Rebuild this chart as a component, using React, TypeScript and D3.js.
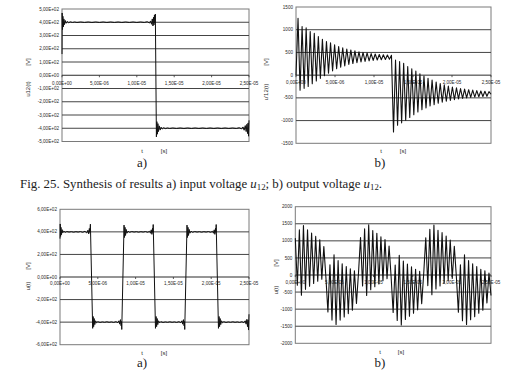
import React from 'react';
import * as d3 from 'd3';

const W = 516;
const H = 377;

// x axis: time in microseconds
const timeTicks = [0, 5, 10, 15, 20, 25];
const timeTickLabels = ['0,00E+00', '5,00E-06', '1,00E-05', '1,50E-05', '2,00E-05', '2,50E-05'];

// y ticks
const ticksTL = [500, 400, 300, 200, 100, 0, -100, -200, -300, -400, -500];
const labelsTL = ['5,00E+02', '4,00E+02', '3,00E+02', '2,00E+02', '1,00E+02', '0,00E+00', '-1,00E+02', '-2,00E+02', '-3,00E+02', '-4,00E+02', '-5,00E+02'];
const ticksTR = [1500, 1000, 500, 0, -500, -1000, -1500];
const labelsTR = ['1500', '1000', '500', '0', '-500', '-1000', '-1500'];
const ticksBL = [600, 400, 200, 0, -200, -400, -600];
const labelsBL = ['6,00E+02', '4,00E+02', '2,00E+02', '0,00E+00', '-2,00E+02', '-4,00E+02', '-6,00E+02'];
const ticksBR = [2000, 1500, 1000, 500, 0, -500, -1000, -1500, -2000];
const labelsBR = ['2000', '1500', '1000', '500', '0', '-500', '-1000', '-1500', '-2000'];

// Fig a) top: input voltage (t in µs, v in V)
const inTopT = [0, 0.02, 0.07, 0.12, 0.18, 0.25, 0.33, 0.42, 0.55, 0.7, 0.9, 1.1, 1.4, 1.7, 2.0, 2.5, 3.0, 3.5, 4, 4.5, 5, 5.5, 6, 6.5, 7, 7.5, 8, 8.5, 9, 9.5, 10, 10.5, 11, 11.4, 11.7, 11.85, 11.97, 12.07, 12.16, 12.24, 12.3, 12.36, 12.42, 12.48,
  12.62, 12.68, 12.75, 12.82, 12.9, 13.0, 13.12, 13.25, 13.4, 13.6, 13.8, 14.1, 14.4, 14.8, 15.3, 15.8, 16.3, 16.8, 17.3, 17.8, 18.3, 18.8, 19.3, 19.8, 20.3, 20.8, 21.3, 21.8, 22.3, 22.8, 23.3, 23.7, 24.0, 24.2, 24.35, 24.5, 24.62, 24.72, 24.8, 24.88, 24.94, 25.0];
const inTopV = [160, 470, 345, 445, 365, 425, 382, 414, 392, 406, 396, 403, 398, 402, 398, 402, 398, 402, 398, 402, 398, 402, 398, 402, 398, 402, 398, 402, 398, 402, 398, 402, 398, 404, 394, 410, 385, 425, 372, 438, 380, 455, 395, 462,
  -465, -350, -445, -365, -425, -382, -414, -392, -406, -396, -403, -398, -402, -398, -402, -398, -402, -398, -402, -398, -402, -398, -402, -398, -402, -398, -402, -398, -402, -398, -402, -396, -405, -390, -415, -380, -425, -370, -440, -360, -460, -340];

// Fig b) top: output voltage, extremes read every 0.2604 µs (25/96)
const outTopV = [0, 1250, -330, 1070, -290, 1040, -250, 960, -190, 920, -130, 850, -70, 790, -10, 740, 45, 710, 95, 670, 140, 630, 175, 600, 205, 575, 235, 555, 255, 535, 275, 515, 290, 500, 303, 488, 315, 475, 325, 465, 333, 455, 340, 448, 346, 442, 352, 438,
  -1250, 330, -1100, 300, -1050, 260, -990, 190, -930, 140, -870, 90, -810, 30, -760, -20, -720, -70, -680, -110, -650, -150, -620, -185, -595, -215, -575, -240, -555, -260, -538, -280, -522, -295, -510, -308, -500, -320, -490, -330, -482, -340, -476, -348, -470, -355, -466, -362, -420];

// Fig a) bottom: input voltage, 3 periods
const inBotT = [0, 0.03, 0.08, 0.13, 0.2, 0.28, 0.36, 0.5, 0.7, 0.9, 1.2, 1.5, 1.8, 2.1, 2.4, 2.7, 3.0, 3.3, 3.55, 3.7, 3.8, 3.88, 3.95, 4.02,
  4.32, 4.38, 4.45, 4.52, 4.6, 4.7, 4.85, 5.0, 5.3, 5.6, 5.9, 6.2, 6.5, 6.8, 7.1, 7.4, 7.65, 7.8, 7.9, 8.0, 8.08, 8.13, 8.17,
  8.47, 8.53, 8.6, 8.67, 8.75, 8.85, 9.0, 9.2, 9.5, 9.8, 10.1, 10.4, 10.7, 11.0, 11.3, 11.6, 11.85, 11.97, 12.07, 12.16, 12.24, 12.29, 12.33,
  12.63, 12.71, 12.78, 12.85, 12.93, 13.03, 13.18, 13.33, 13.63, 13.93, 14.23, 14.53, 14.83, 15.13, 15.43, 15.73, 15.98, 16.13, 16.23, 16.33, 16.41, 16.46, 16.5,
  16.8, 16.86, 16.93, 17.0, 17.08, 17.18, 17.33, 17.53, 17.83, 18.13, 18.43, 18.73, 19.03, 19.33, 19.63, 19.93, 20.18, 20.3, 20.4, 20.49, 20.57, 20.62, 20.66,
  20.96, 21.04, 21.11, 21.18, 21.26, 21.36, 21.51, 21.66, 21.96, 22.26, 22.56, 22.86, 23.16, 23.46, 23.76, 24.06, 24.31, 24.5, 24.62, 24.72, 24.8, 24.88, 24.94, 25.0];
const inBotV = [340, 470, 360, 440, 375, 420, 392, 406, 396, 403, 398, 402, 397, 402, 398, 403, 396, 405, 390, 415, 382, 430, 395, 468,
  -455, -350, -440, -368, -422, -388, -406, -396, -403, -398, -402, -397, -402, -398, -403, -396, -405, -388, -418, -378, -432, -395, -465,
  460, 350, 440, 368, 422, 388, 406, 396, 403, 398, 402, 397, 402, 398, 403, 396, 405, 388, 418, 378, 432, 395, 465,
  -455, -350, -440, -368, -422, -388, -406, -396, -403, -398, -402, -397, -402, -398, -403, -396, -405, -388, -418, -378, -432, -395, -465,
  460, 350, 440, 368, 422, 388, 406, 396, 403, 398, 402, 397, 402, 398, 403, 396, 405, 388, 418, 378, 432, 395, 465,
  -455, -350, -440, -368, -422, -388, -406, -396, -403, -398, -402, -397, -402, -398, -403, -396, -405, -388, -418, -375, -440, -380, -470, -330];

// Fig b) bottom: output voltage, extremes read every 0.2604 µs (25/96)
const outBotV = [1080, -300, 1320, -590, 1450, -420, 1320, -330, 1230, -250, 1130, -180, 1030, -120, 830, -60,
  -1080, 300, -1320, 590, -1450, 420, -1320, 330, -1230, 250, -1130, 180, -1030, 120, -830, 60,
  1100, -320, 1350, -600, 1470, -430, 1300, -340, 1220, -260, 1120, -170, 1040, -110, 850, -50,
  -1100, 290, -1330, 580, -1460, 410, -1300, 320, -1210, 240, -1120, 170, -1020, 110, -840, 50,
  1090, -310, 1340, -580, 1460, -410, 1310, -320, 1240, -240, 1140, -170, 1020, -100, 840, -40,
  -1090, 300, -1340, 590, -1450, 420, -1310, 330, -1220, 250, -1120, 170, -1030, 120, -820, 60, -600];

const SAMPLE_US = 25 / 96;

type Box = { x0: number; x1: number; y0: number; y1: number };

type PanelProps = {
  box: Box;
  yTicks: number[];
  yLabels: string[];
  t: number[];
  v: number[];
  yTitle: string;
  yTitleX: number;
  yTitleY: number;
  unitY: number;
  tX: number;
  sX: number;
  xLabY: number;
  bottomLabY: number;
  letter: string;
  letterX: number;
  letterY: number;
  strokeW: number;
};

function Panel(p: PanelProps) {
  const { box } = p;
  const x = d3.scaleLinear().domain([0, 25]).range([box.x0, box.x1]);
  const y = d3.scaleLinear().domain([p.yTicks[p.yTicks.length - 1], p.yTicks[0]]).range([box.y1, box.y0]);
  const line = d3.line<number>().x((_, i) => x(p.t[i])).y((d) => y(d));
  const y0 = y(0);
  const tickFont = { fontFamily: 'Liberation Sans, Arial, sans-serif', fontSize: 4.6, fill: '#2a2a2a' } as const;
  const labFont = { fontFamily: 'Liberation Sans, Arial, sans-serif', fontSize: 6, fill: '#2a2a2a' } as const;
  return (
    <g>
      <rect x={box.x0} y={box.y0} width={box.x1 - box.x0} height={box.y1 - box.y0} fill="#fff" stroke="#7a7a7a" strokeWidth={1} />
      {p.yTicks.map((tv, i) => (
        <g key={'g' + i}>
          {i > 0 && i < p.yTicks.length - 1 && (
            <line x1={box.x0} x2={box.x1} y1={y(tv)} y2={y(tv)} stroke={tv === 0 ? '#2a2a2a' : '#444'} strokeWidth={1} />
          )}
          <text x={box.x0 - 3} y={y(tv) + 1.6} textAnchor="end" style={tickFont}>{p.yLabels[i]}</text>
        </g>
      ))}
      {timeTicks.map((tv, i) => (
        <g key={'x' + i}>
          <line x1={x(tv)} x2={x(tv)} y1={y0} y2={y0 + 2} stroke="#333" strokeWidth={0.8} />
          <text x={x(tv)} y={p.xLabY} textAnchor="middle" style={tickFont}>{timeTickLabels[i]}</text>
        </g>
      ))}
      <path d={line(p.v) || ''} fill="none" stroke="#111" strokeWidth={p.strokeW} strokeLinejoin="round" />
      <text transform={`translate(${p.yTitleX},${p.yTitleY}) rotate(-90)`} textAnchor="middle" style={labFont}>{p.yTitle}</text>
      <text transform={`translate(${p.yTitleX},${p.unitY}) rotate(-90)`} textAnchor="middle" style={labFont}>[V]</text>
      <text x={p.tX} y={p.bottomLabY} textAnchor="middle" style={labFont}>t</text>
      <text x={p.sX} y={p.bottomLabY} textAnchor="middle" style={labFont}>[s]</text>
      <text x={p.letterX} y={p.letterY} textAnchor="middle" style={{ fontFamily: 'Liberation Serif, serif', fontSize: 13, fill: '#222' }}>{p.letter}</text>
    </g>
  );
}

export default function App() {
  const outTopT = outTopV.map((_, i) => i * SAMPLE_US);
  const outBotT = outBotV.map((_, i) => i * SAMPLE_US);
  return (
    <svg width={W} height={H} style={{ position: 'absolute', left: 0, top: 0, background: '#fff' }}>
      <rect width={W} height={H} fill="#fff" />
      <Panel box={{ x0: 62, x1: 249, y0: 9, y1: 141.5 }} yTicks={ticksTL} yLabels={labelsTL} t={inTopT} v={inTopV}
        yTitle="u12(t)" yTitleX={30} yTitleY={89} unitY={62} tX={142} sX={164} xLabY={85} bottomLabY={153}
        letter="a)" letterX={142} letterY={167} strokeW={1} />
      <Panel box={{ x0: 296, x1: 491, y0: 7, y1: 143.3 }} yTicks={ticksTR} yLabels={labelsTR} t={outTopT} v={outTopV}
        yTitle="u'12(t)" yTitleX={268} yTitleY={92} unitY={62} tX={381} sX={403} xLabY={84} bottomLabY={153}
        letter="b)" letterX={380} letterY={167} strokeW={1.1} />
      <Panel box={{ x0: 60, x1: 249, y0: 209.3, y1: 344.7 }} yTicks={ticksBL} yLabels={labelsBL} t={inBotT} v={inBotV}
        yTitle="u(t)" yTitleX={30} yTitleY={286} unitY={266} tX={142} sX={164} xLabY={285} bottomLabY={355}
        letter="a)" letterX={142} letterY={367} strokeW={1} />
      <Panel box={{ x0: 295.3, x1: 491, y0: 206.7, y1: 343.3 }} yTicks={ticksBR} yLabels={labelsBR} t={outBotT} v={outBotV}
        yTitle="u(t)" yTitleX={278} yTitleY={290} unitY={263} tX={380} sX={401} xLabY={284} bottomLabY={354}
        letter="b)" letterX={380} letterY={367} strokeW={1.1} />
      <text x={20} y={188} textLength={362} lengthAdjust="spacingAndGlyphs" style={{ fontFamily: 'Liberation Serif, serif', fontSize: 12.5, fill: '#222' }}>
        Fig. 25. Synthesis of results a) input voltage <tspan fontStyle="italic">u</tspan><tspan fontSize={8.5} dy={2}>12</tspan><tspan dy={-2}>; b) output voltage </tspan><tspan fontStyle="italic">u</tspan><tspan fontSize={8.5} dy={2}>12</tspan><tspan dy={-2}>.</tspan>
      </text>
    </svg>
  );
}
